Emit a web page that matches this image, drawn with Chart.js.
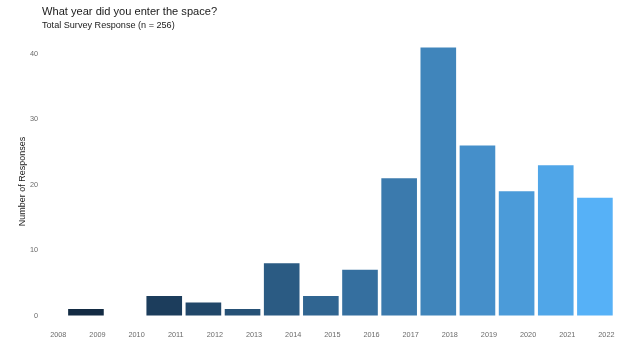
<!DOCTYPE html>
<html>
<head>
<meta charset="utf-8">
<script src="https://cdn.jsdelivr.net/npm/chart.js@4/dist/chart.umd.min.js"></script>
<style>
  html, body { margin: 0; padding: 0; background: #ffffff; }
  #wrap { width: 637px; height: 345px; position: relative; }
</style>
</head>
<body>
<div id="wrap"><canvas id="chart"></canvas></div>
<script>
// Survey: year respondents entered the space
const years = [2008, 2009, 2010, 2011, 2012, 2013, 2014, 2015, 2016, 2017, 2018, 2019, 2020, 2021, 2022];
const responses = [0, 1, 0, 3, 2, 1, 8, 3, 7, 21, 41, 26, 19, 23, 18];
const yTicks = [0, 10, 20, 30, 40];
const titleText = 'What year did you enter the space?';
const subtitleText = 'Total Survey Response (n = 256)';
const yTitle = 'Number of Responses';

// Continuous fill from dark navy to light blue, interpolated in CIE Lab
function hexToRgb(h) {
  return [parseInt(h.slice(1, 3), 16), parseInt(h.slice(3, 5), 16), parseInt(h.slice(5, 7), 16)];
}
function srgbToLin(c) { c /= 255; return c <= 0.04045 ? c / 12.92 : Math.pow((c + 0.055) / 1.055, 2.4); }
function linToSrgb(c) { c = c <= 0.0031308 ? 12.92 * c : 1.055 * Math.pow(c, 1 / 2.4) - 0.055; return Math.round(Math.min(1, Math.max(0, c)) * 255); }
const WP = [0.95047, 1.0, 1.08883];
function rgbToLab(rgb) {
  const [r, g, b] = rgb.map(srgbToLin);
  const x = (0.4124 * r + 0.3576 * g + 0.1805 * b) / WP[0];
  const y = (0.2126 * r + 0.7152 * g + 0.0722 * b) / WP[1];
  const z = (0.0193 * r + 0.1192 * g + 0.9505 * b) / WP[2];
  const f = t => t > 0.008856 ? Math.cbrt(t) : 7.787 * t + 16 / 116;
  const fx = f(x), fy = f(y), fz = f(z);
  return [116 * fy - 16, 500 * (fx - fy), 200 * (fy - fz)];
}
function labToRgb(lab) {
  const fy = (lab[0] + 16) / 116, fx = fy + lab[1] / 500, fz = fy - lab[2] / 200;
  const fi = t => t > 0.206893 ? t * t * t : (t - 16 / 116) / 7.787;
  const x = fi(fx) * WP[0], y = fi(fy) * WP[1], z = fi(fz) * WP[2];
  const r = 3.2406 * x - 1.5372 * y - 0.4986 * z;
  const g = -0.9689 * x + 1.8758 * y + 0.0415 * z;
  const b = 0.0557 * x - 0.2040 * y + 1.0570 * z;
  return 'rgb(' + [r, g, b].map(linToSrgb).join(',') + ')';
}
const lowLab = rgbToLab(hexToRgb('#132B43'));
const highLab = rgbToLab(hexToRgb('#56B1F7'));
const present = years.filter((y, i) => responses[i] > 0);
const yMinYear = Math.min(...present), yMaxYear = Math.max(...present);
function fillFor(year) {
  const t = Math.max(0, Math.min(1, (year - yMinYear) / (yMaxYear - yMinYear)));
  return labToRgb(lowLab.map((v, k) => v + (highLab[k] - v) * t));
}

// Title and subtitle drawn at the top-left of the canvas
const headerPlugin = {
  id: 'header',
  afterDraw(chart) {
    const ctx = chart.ctx;
    ctx.save();
    ctx.textAlign = 'left';
    ctx.textBaseline = 'alphabetic';
    ctx.fillStyle = '#1a1a1a';
    ctx.font = '11.1px "Liberation Sans", Arial, sans-serif';
    ctx.fillText(titleText, 42, 15);
    ctx.font = '9.1px "Liberation Sans", Arial, sans-serif';
    ctx.fillText(subtitleText, 42, 28);
    ctx.restore();
  }
};

const ctx = document.getElementById('chart');
new Chart(ctx, {
  type: 'bar',
  data: {
    datasets: [{
      data: years.map((y, i) => ({ x: y, y: responses[i] })),
      backgroundColor: years.map(fillFor),
      borderWidth: 0,
      categoryPercentage: 1,
      barPercentage: 0.91
    }]
  },
  options: {
    responsive: true,
    maintainAspectRatio: false,
    animation: false,
    layout: { padding: { top: 34, right: 17, bottom: 0, left: 0 } },
    plugins: { legend: { display: false }, tooltip: { enabled: false }, title: { display: false } },
    scales: {
      x: {
        type: 'linear',
        offset: false,
        min: 2007.852,
        max: 2022.641,
        afterBuildTicks(scale) { scale.ticks = years.map(v => ({ value: v })); },
        afterFit(scale) { scale.height = 16; },
        grid: { display: false, drawTicks: false },
        border: { display: false },
        ticks: {
          color: '#6b6b6b',
          font: { family: '"Liberation Sans", Arial, sans-serif', size: 7.3 },
          padding: 2,
          labelOffset: 11.5,
          maxRotation: 0,
          autoSkip: false,
          callback: v => String(v)
        }
      },
      y: {
        type: 'linear',
        min: -2.05,
        max: 43.05,
        afterBuildTicks(scale) { scale.ticks = yTicks.map(v => ({ value: v })); },
        afterFit(scale) { scale.width = 41; },
        grid: { display: false, drawTicks: false },
        border: { display: false },
        title: {
          display: true,
          text: yTitle,
          color: '#1a1a1a',
          font: { family: '"Liberation Sans", Arial, sans-serif', size: 9 },
          padding: { top: 17, bottom: 0 }
        },
        ticks: {
          color: '#6b6b6b',
          font: { family: '"Liberation Sans", Arial, sans-serif', size: 7.3 },
          padding: 3
        }
      }
    }
  },
  plugins: [headerPlugin]
});
</script>
</body>
</html>
